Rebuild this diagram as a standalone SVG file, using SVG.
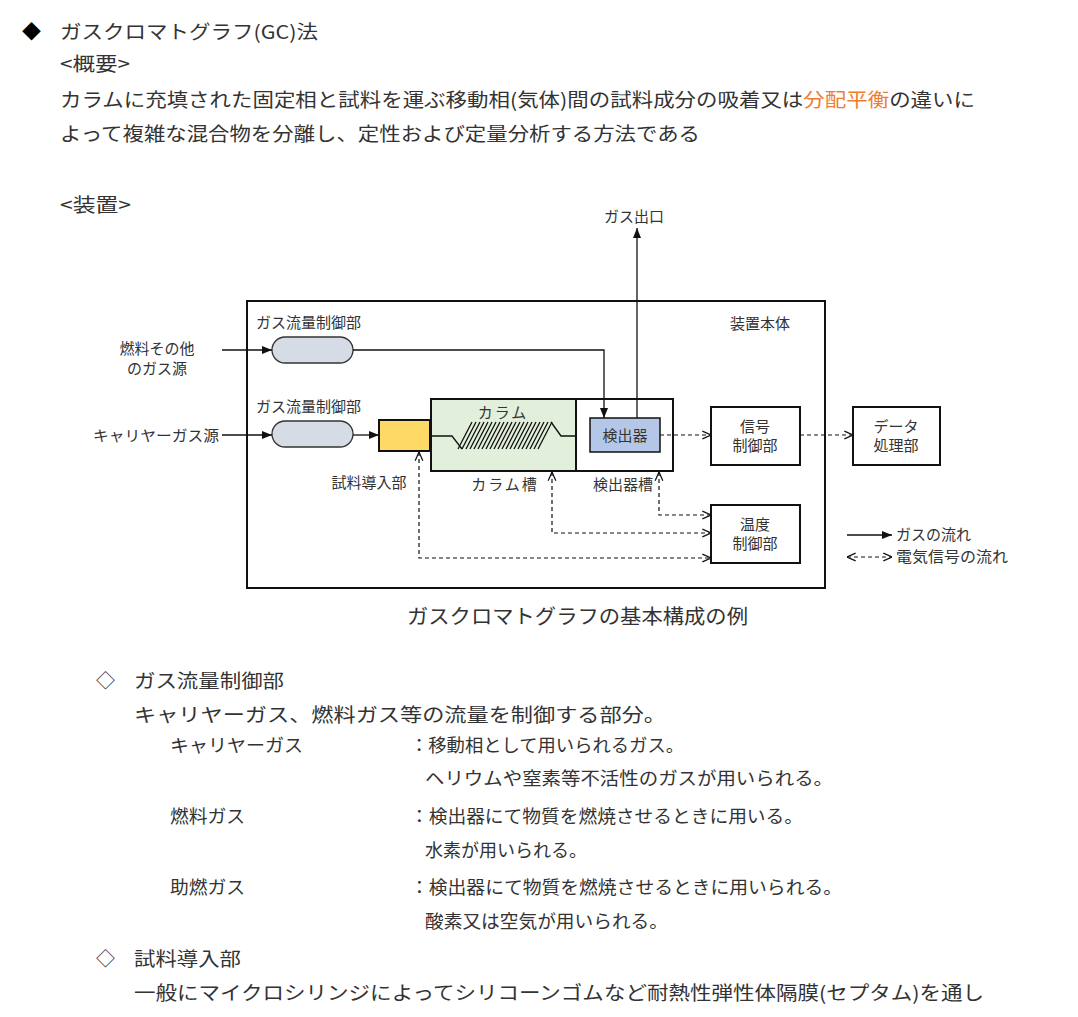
<svg xmlns="http://www.w3.org/2000/svg" width="1078" height="1017" viewBox="0 0 1078 1017">
<defs>
<style>
text{font-family:"Noto Sans CJK JP","Liberation Sans",sans-serif;fill:#333}
.b{font-size:19px}
.m{font-size:18px}
.s{font-size:15px}
.box{fill:#fff;stroke:#111;stroke-width:2}
.ln{fill:none;stroke:#111;stroke-width:1.3}
.dl{fill:none;stroke:#111;stroke-width:1.2;stroke-dasharray:4 3}
</style>
<marker id="a" viewBox="0 0 10 10" refX="10" refY="5" markerWidth="8" markerHeight="8" orient="auto-start-reverse"><path d="M0,1 L10,5 L0,9 z" fill="#111"/></marker>
<marker id="o" viewBox="0 0 10 10" refX="10" refY="5" markerWidth="8" markerHeight="8" orient="auto-start-reverse"><path d="M1,1 L10,5 L1,9" fill="none" stroke="#111" stroke-width="1.3"/></marker>
</defs>
<rect width="1078" height="1017" fill="#fff"/>
<text x="22" y="39" class="b" style="fill:#000">◆</text>
<text x="60" y="39" class="b" textLength="258" lengthAdjust="spacingAndGlyphs">ガスクロマトグラフ(GC)法</text>
<text x="60" y="71" class="b" textLength="70" lengthAdjust="spacingAndGlyphs">&lt;概要&gt;</text>
<text x="60" y="107" class="b" textLength="915" lengthAdjust="spacingAndGlyphs">カラムに充填された固定相と試料を運ぶ移動相(気体)間の試料成分の吸着又は<tspan style="fill:#ED7D31">分配平衡</tspan>の違いに</text>
<text x="60" y="141" class="b" textLength="640" lengthAdjust="spacingAndGlyphs">よって複雑な混合物を分離し、定性および定量分析する方法である</text>
<text x="60" y="212" class="b" textLength="71" lengthAdjust="spacingAndGlyphs">&lt;装置&gt;</text>

<g id="main"><rect x="247" y="301" width="578" height="287" class="box"/><text x="730" y="329" class="s">装置本体</text></g>
<g id="src1"><text x="157" y="354" class="s" text-anchor="middle">燃料その他</text><text x="157" y="374" class="s" text-anchor="middle">のガス源</text></g>
<g id="src2"><text x="93" y="441" class="s" textLength="126" lengthAdjust="spacingAndGlyphs">キャリヤーガス源</text></g>
<g id="fc1"><text x="256" y="328" class="s">ガス流量制御部</text><rect x="272" y="337" width="81" height="26" rx="13" fill="#D6DCE5" stroke="#333" stroke-width="1.3"/></g>
<g id="fc2"><text x="256" y="412" class="s">ガス流量制御部</text><rect x="272" y="421" width="81" height="26" rx="13" fill="#D6DCE5" stroke="#333" stroke-width="1.3"/></g>
<g id="inj"><rect x="379" y="420" width="51" height="31" fill="#FFD966" stroke="#111" stroke-width="2"/><text x="369" y="488" class="s" text-anchor="middle">試料導入部</text></g>
<g id="colov"><rect x="431" y="399" width="145" height="72" fill="#E2EFDA" stroke="#111" stroke-width="2"/><text x="503" y="418" class="s" text-anchor="middle" letter-spacing="2">カラム</text><text x="505" y="490" class="s" text-anchor="middle" letter-spacing="2">カラム槽</text>
<path class="ln" d="M431,436 H452 L462,449 M551,422 L561,436 H590"/>
<path class="ln" stroke-width="1" d="M458,449l14,-27M462,449l14,-27M466,449l14,-27M470,449l14,-27M474,449l14,-27M478,449l14,-27M482,449l14,-27M486,449l14,-27M490,449l14,-27M494,449l14,-27M498,449l14,-27M502,449l14,-27M506,449l14,-27M510,449l14,-27M514,449l14,-27M518,449l14,-27M522,449l14,-27M526,449l14,-27M530,449l14,-27M534,449l14,-27M538,449l14,-27"/></g>
<g id="detov"><rect x="576" y="399" width="97" height="72" class="box"/><text x="623" y="490" class="s" text-anchor="middle">検出器槽</text></g>
<g id="det"><rect x="590" y="418" width="70" height="34" fill="#B4C7E7" stroke="#111" stroke-width="1.5"/><text x="625" y="441" class="s" text-anchor="middle">検出器</text></g>
<g id="sig"><rect x="711" y="407" width="89" height="58" class="box"/><text x="755" y="432" class="s" text-anchor="middle">信号</text><text x="755" y="451" class="s" text-anchor="middle">制御部</text></g>
<g id="data"><rect x="853" y="407" width="87" height="58" class="box"/><text x="896" y="432" class="s" text-anchor="middle">データ</text><text x="896" y="451" class="s" text-anchor="middle">処理部</text></g>
<g id="temp"><rect x="711" y="505" width="89" height="58" class="box"/><text x="755" y="530" class="s" text-anchor="middle">温度</text><text x="755" y="549" class="s" text-anchor="middle">制御部</text></g>
<g id="out"><text x="634" y="222" class="s" text-anchor="middle">ガス出口</text></g>
<g id="connectors">
<path class="ln" d="M222,350 H272" marker-end="url(#a)"/>
<path class="ln" d="M353,350 H604 V418" marker-end="url(#a)"/>
<path class="ln" d="M222,435 H272" marker-end="url(#a)"/>
<path class="ln" d="M353,435 H379" marker-end="url(#a)"/>
<path class="ln" stroke="#666" d="M637,418 V228" marker-end="url(#a)"/>
<path class="dl" d="M660,435 H711" marker-end="url(#o)"/>
<path class="dl" d="M800,435 H853" marker-end="url(#o)"/>
<path class="dl" d="M419,452 V558 H711" marker-start="url(#o)" marker-end="url(#o)"/>
<path class="dl" d="M552,472 V533 H711" marker-start="url(#o)" marker-end="url(#o)"/>
<path class="dl" d="M659,472 V515 H711" marker-start="url(#o)" marker-end="url(#o)"/>
<path class="ln" d="M847,535 H892" marker-end="url(#a)"/>
<path class="dl" d="M847,557 H892" marker-start="url(#o)" marker-end="url(#o)"/>
</g>
<text x="896" y="540" class="s">ガスの流れ</text>
<text x="896" y="562" class="s" textLength="112" lengthAdjust="spacingAndGlyphs">電気信号の流れ</text>
<text x="407" y="624" style="font-size:20px" textLength="341" lengthAdjust="spacingAndGlyphs">ガスクロマトグラフの基本構成の例</text>

<text x="96" y="688" class="b">◇</text><text x="134" y="688" class="b" textLength="150" lengthAdjust="spacingAndGlyphs">ガス流量制御部</text>
<text x="134" y="722" class="b" textLength="532" lengthAdjust="spacingAndGlyphs">キャリヤーガス、燃料ガス等の流量を制御する部分。</text>
<text x="170" y="752" class="m" textLength="133" lengthAdjust="spacingAndGlyphs">キャリヤーガス</text><text x="410" y="752" class="m" textLength="274" lengthAdjust="spacingAndGlyphs">：移動相として用いられるガス。</text>
<text x="425" y="785" class="m" textLength="408" lengthAdjust="spacingAndGlyphs">ヘリウムや窒素等不活性のガスが用いられる。</text>
<text x="170" y="823" class="m" textLength="75" lengthAdjust="spacingAndGlyphs">燃料ガス</text><text x="410" y="823" class="m" textLength="393" lengthAdjust="spacingAndGlyphs">：検出器にて物質を燃焼させるときに用いる。</text>
<text x="425" y="857" class="m" textLength="162" lengthAdjust="spacingAndGlyphs">水素が用いられる。</text>
<text x="170" y="894" class="m" textLength="75" lengthAdjust="spacingAndGlyphs">助燃ガス</text><text x="410" y="894" class="m" textLength="432" lengthAdjust="spacingAndGlyphs">：検出器にて物質を燃焼させるときに用いられる。</text>
<text x="425" y="928" class="m" textLength="243" lengthAdjust="spacingAndGlyphs">酸素又は空気が用いられる。</text>
<text x="96" y="966" class="b">◇</text><text x="134" y="966" class="b" textLength="107" lengthAdjust="spacingAndGlyphs">試料導入部</text>
<text x="134" y="1000" class="b" textLength="850" lengthAdjust="spacingAndGlyphs">一般にマイクロシリンジによってシリコーンゴムなど耐熱性弾性体隔膜(セプタム)を通し</text>
</svg>
